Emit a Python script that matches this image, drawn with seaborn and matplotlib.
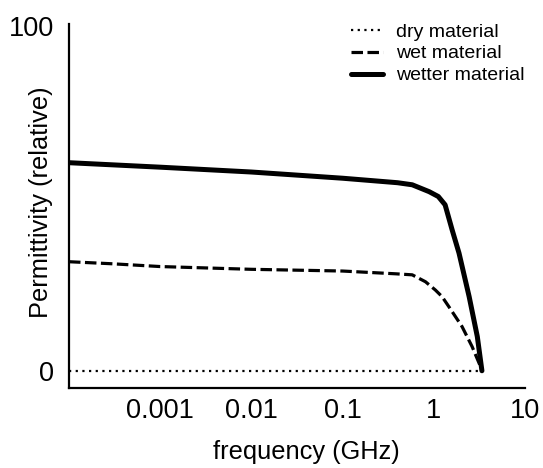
import numpy as np
import pandas as pd
import matplotlib
matplotlib.use("Agg")
import matplotlib.pyplot as plt
import seaborn as sns

# frequency (GHz) and permittivity readings
dry_freq = [1e-4, 3.4]
dry_perm = [0.0, 0.0]

wet_freq = [1e-4, 3e-4, 1e-3, 1e-2, 0.1, 0.38, 0.58, 0.81, 1.04, 1.23, 1.46, 2.04, 2.63, 3.4]
wet_perm = [31.6, 31.0, 30.2, 29.4, 28.9, 28.1, 27.8, 25.8, 23.4, 21.5, 18.6, 12.8, 7.0, 0.0]

wetter_freq = [1e-4, 1e-3, 1e-2, 0.1, 0.4, 0.58, 0.89, 1.12, 1.33, 1.59, 1.89, 2.44, 3.0, 3.37]
wetter_perm = [60.3, 59.0, 57.6, 55.8, 54.5, 53.9, 51.9, 50.5, 48.1, 40.8, 34.1, 21.5, 9.9, 0.0]

labels = ["dry material", "wet material", "wetter material"]
x_ticks = [0.001, 0.01, 0.1, 1, 10]
x_tick_labels = ["0.001", "0.01", "0.1", "1", "10"]
y_ticks = [0, 100]
y_tick_labels = ["0", "100"]

sns.set_style("white")
plt.rcParams["font.family"] = ["Liberation Sans", "DejaVu Sans"]
plt.rcParams["text.color"] = "black"
plt.rcParams["axes.labelcolor"] = "black"
plt.rcParams["xtick.color"] = "black"
plt.rcParams["ytick.color"] = "black"

fig = plt.figure(figsize=(5.43, 4.68), dpi=100)
ax = fig.add_axes([69/543, 1-388/468, (525-69)/543, (388-24)/468])

df_dry = pd.DataFrame({"f": dry_freq, "p": dry_perm})
df_wet = pd.DataFrame({"f": wet_freq, "p": wet_perm})
df_wetter = pd.DataFrame({"f": wetter_freq, "p": wetter_perm})

sns.lineplot(data=df_dry, x="f", y="p", ax=ax, color="black", lw=1.6,
             linestyle=(0, (1, 2.0)), label=labels[0])
sns.lineplot(data=df_wet, x="f", y="p", ax=ax, color="black", lw=2.3,
             linestyle=(0, (3.6, 1.4)), label=labels[1])
sns.lineplot(data=df_wetter, x="f", y="p", ax=ax, color="black", lw=3.6,
             linestyle="-", label=labels[2])

ax.set_xscale("log")
ax.set_xlim(1e-4, 10)
ax.set_ylim(-5.0, 100.5)
ax.set_xticks(x_ticks)
ax.set_xticklabels(x_tick_labels)
ax.minorticks_off()
ax.set_yticks(y_ticks)
ax.set_yticklabels(y_tick_labels)

ax.tick_params(axis="x", direction="in", length=7, width=1.6, labelsize=19.5, pad=7,
               colors="black", labelcolor="black")
ax.tick_params(axis="y", length=0, labelsize=19.5, pad=11, colors="black", labelcolor="black")

for s in ["top", "right"]:
    ax.spines[s].set_visible(False)
for s in ["left", "bottom"]:
    ax.spines[s].set_linewidth(1.6)
    ax.spines[s].set_color("black")

ax.set_xlabel("frequency (GHz)", fontsize=18.3, color="black")
ax.set_ylabel("Permittivity (relative)", fontsize=18.3, color="black")
ax.xaxis.set_label_coords((306-69)/456, -(440-388)/364, transform=ax.transAxes)
ax.yaxis.set_label_coords(-(69-53)/456, (388-202)/364, transform=ax.transAxes)

leg = ax.legend(loc="upper right", bbox_to_anchor=(1.024, 1.035), frameon=False,
                fontsize=14, handlelength=1.65, handletextpad=0.67,
                labelspacing=0.22, borderaxespad=0.2, labelcolor="black")

fig.savefig("out.png", dpi=100)
